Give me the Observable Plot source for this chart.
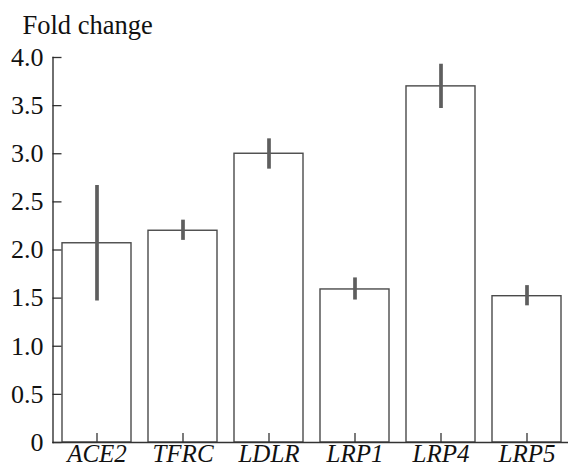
<!DOCTYPE html>
<html>
<head>
<meta charset="utf-8">
<script src="https://cdn.jsdelivr.net/npm/d3@7"></script>
<script src="https://cdn.jsdelivr.net/npm/@observablehq/plot@0.6"></script>
<style>
  html, body { margin: 0; padding: 0; background: #fff; }
  svg { display: block; }
  svg text { font-family: 'Liberation Serif', 'Times New Roman', serif !important; }
</style>
</head>
<body>
<div id="chart"></div>
<script>
const genes = ["ACE2", "TFRC", "LDLR", "LRP1", "LRP4", "LRP5"];
const foldChange = [2.07, 2.2, 3.0, 1.59, 3.7, 1.52];
const errLow = [1.47, 2.1, 2.84, 1.48, 3.47, 1.42];
const errHigh = [2.67, 2.31, 3.155, 1.71, 3.93, 1.63];
const yTicks = [0, 0.5, 1.0, 1.5, 2.0, 2.5, 3.0, 3.5, 4.0];
const yTitle = "Fold change";

const data = genes.map((g, i) => ({gene: g, value: foldChange[i], lo: errLow[i], hi: errHigh[i]}));

const font = "'Liberation Serif', 'Times New Roman', serif";
const W = 568, H = 467;
const ml = 52.5, mt = 57, mb = 25;
const tickLen = 9;
const xTickLenData = tickLen * 4 / (H - mt - mb);

const chart = Plot.plot({
  width: W,
  height: H,
  marginLeft: ml,
  marginRight: 0,
  marginTop: mt,
  marginBottom: mb,
  style: {fontFamily: font, fontSize: "25px", background: "white", overflow: "visible"},
  x: {domain: genes, range: [ml, 571], paddingInner: 0.2, paddingOuter: 0.09, align: 0.5, label: null},
  y: {domain: [0, 4], label: null},
  marks: [
    Plot.barY(data, {x: "gene", y: "value", fill: "white", stroke: "#4a4a4a", strokeWidth: 1.4}),
    Plot.ruleX(data, {x: "gene", y1: "lo", y2: "hi", stroke: "#5e5e5e", strokeWidth: 3.7}),
    Plot.ruleY(yTicks, {y: d => d, insetRight: W - ml - tickLen, stroke: "#333", strokeWidth: 1.3}),
    Plot.ruleX(genes, {x: d => d, y1: 0, y2: xTickLenData, stroke: "#333", strokeWidth: 1.3}),
    Plot.ruleY([0], {stroke: "#333", strokeWidth: 1.4}),
    Plot.frame({anchor: "left", stroke: "#222", strokeWidth: 1.3}),
    Plot.axisY({ticks: yTicks, tickSize: 0, tickPadding: 9.5, tickFormat: d => d === 0 ? "0" : d.toFixed(1), fill: "#111", fontSize: 26, fontFamily: font, label: null}),
    Plot.axisX({tickSize: 0, tickPadding: 1.5, fill: "#111", fontSize: 25, fontFamily: font, fontStyle: "italic", label: null}),
    Plot.text([yTitle], {frameAnchor: "top-left", dx: -30.5, dy: -32, textAnchor: "start", lineAnchor: "middle", fontSize: 26.5, fontFamily: font, fill: "#111"})
  ]
});
document.getElementById("chart").appendChild(chart);
</script>
</body>
</html>
